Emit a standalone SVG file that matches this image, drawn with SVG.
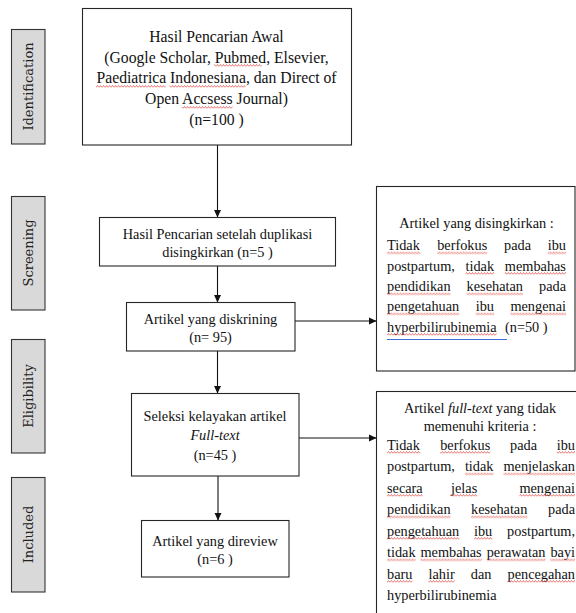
<svg xmlns="http://www.w3.org/2000/svg" width="576" height="613" viewBox="0 0 576 613">
<style>
.box{fill:#fff;stroke:#262626;stroke-width:1.1}
.lab{fill:#d9d9d9;stroke:#333;stroke-width:1.1}
.t{font-family:'Liberation Serif',Tinos,'Times New Roman',Times,'DejaVu Serif',serif;font-size:14.3px;fill:#111}
.t1{font-family:'Liberation Serif',Tinos,'Times New Roman',Times,'DejaVu Serif',serif;font-size:15.7px;fill:#111}
.c{text-anchor:middle}
.lt{font-family:'DejaVu Serif',serif;font-size:13px;fill:#222;text-anchor:middle}
.ln{stroke:#111;stroke-width:1.1;fill:none;marker-end:url(#ah)}
.sq{fill:url(#sq)}
</style>
<defs>
<marker id="ah" markerUnits="userSpaceOnUse" markerWidth="9" markerHeight="9" refX="8" refY="4" orient="auto">
<path d="M0,0.3 L8,4 L0,7.7 z" fill="#111"/>
</marker>
<pattern id="sq" width="3" height="3" patternUnits="userSpaceOnUse">
<path d="M0,2.5 L1.5,0.5 L3,2.5" fill="none" stroke="#e0403a" stroke-width="0.7"/>
</pattern>
</defs>

<g id="label-identification"><rect class="lab" x="11.5" y="29.5" width="33.5" height="114.5"/><text class="lt" transform="translate(32.5,86.5) rotate(-90)">Identification</text></g>
<g id="label-screening"><rect class="lab" x="11.5" y="196.5" width="33.5" height="113.5"/><text class="lt" transform="translate(32.5,253) rotate(-90)">Screening</text></g>
<g id="label-eligibility"><rect class="lab" x="11.5" y="339.5" width="33.5" height="113.5"/><text class="lt" transform="translate(32.5,396) rotate(-90)">Eligibility</text></g>
<g id="label-included"><rect class="lab" x="11.5" y="477.5" width="33.5" height="114.5"/><text class="lt" transform="translate(32.5,534.5) rotate(-90)">Included</text></g>

<g id="connectors">
<path class="ln" d="M217.5,145 V217.5"/>
<path class="ln" d="M217.5,266 V302.5"/>
<path class="ln" d="M217.5,351 V393.5"/>
<path class="ln" d="M218,476 V520.5"/>
<path class="ln" d="M295,321 H376.5"/>
<path class="ln" d="M299,438 H376.5"/>
</g>

<g id="n1">
<rect class="box" x="82.5" y="8.5" width="269" height="136.5"/>
<text class="t1 c" x="216.5" y="42">Hasil Pencarian Awal</text>
<text class="t1 c" x="216.5" y="62.7">(Google Scholar, Pubmed, Elsevier,</text>
<text class="t1 c" x="216.5" y="83.3">Paediatrica Indonesiana, dan Direct of</text>
<text class="t1 c" x="216.5" y="104">Open Accsess Journal)</text>
<text class="t1 c" x="216.5" y="124.7">(n=100 )</text>
<g transform="translate(0,64)"><rect class="sq" x="214.2" width="47.5" height="3"/></g>
<g transform="translate(0,85)"><rect class="sq" x="95.9" width="69.8" height="3"/><rect class="sq" x="169.6" width="75.9" height="3"/></g>
<g transform="translate(0,106)"><rect class="sq" x="181.9" width="50.6" height="3"/></g>
</g>

<g id="n2">
<rect class="box" x="99.5" y="217.5" width="236" height="48.5"/>
<text class="t c" x="217.5" y="238.5">Hasil Pencarian setelah duplikasi</text>
<text class="t c" x="217.5" y="257">disingkirkan (n=5 )</text>
</g>

<g id="n3">
<rect class="box" x="126.5" y="302.5" width="168.5" height="48.5"/>
<text class="t c" x="210.5" y="323.5">Artikel yang diskrining</text>
<text class="t c" x="210.5" y="341.5">(n= 95)</text>
</g>

<g id="n4">
<rect class="box" x="131.5" y="393.5" width="167.5" height="82.5"/>
<text class="t c" x="215" y="421">Seleksi kelayakan artikel</text>
<text class="t c" x="215" y="440" font-style="italic">Full-text</text>
<text class="t c" x="215" y="459.5">(n=45 )</text>
</g>

<g id="n5">
<rect class="box" x="141.5" y="520.5" width="147.5" height="56.5"/>
<text class="t c" x="215" y="545.5">Artikel yang direview</text>
<text class="t c" x="215" y="563.5">(n=6 )</text>
</g>

<g id="side1">
<rect class="box" x="376.5" y="186.5" width="198.5" height="184.5"/>
<text class="t c" x="476.5" y="228">Artikel yang disingkirkan :</text>
<text class="t" y="250"><tspan x="387">Tidak</tspan><tspan x="437.2">berfokus</tspan><tspan x="504">pada</tspan><tspan x="547.7">ibu</tspan></text>
<text class="t" y="270.5"><tspan x="387">postpartum,</tspan><tspan x="465.5">tidak</tspan><tspan x="504.8">membahas</tspan></text>
<text class="t" y="291"><tspan x="387">pendidikan</tspan><tspan x="466.6">kesehatan</tspan><tspan x="539">pada</tspan></text>
<text class="t" y="311"><tspan x="387">pengetahuan</tspan><tspan x="475.7">ibu</tspan><tspan x="510.4">mengenai</tspan></text>
<text class="t" y="331.5"><tspan x="387">hyperbilirubinemia</tspan><tspan x="505">(n=50 )</tspan></text>
<g transform="translate(0,251.5)"><rect class="sq" x="387" width="33.4" height="3"/><rect class="sq" x="437.2" width="50" height="3"/><rect class="sq" x="547.7" width="18.3" height="3"/></g>
<g transform="translate(0,272)"><rect class="sq" x="465.5" width="28.6" height="3"/><rect class="sq" x="504.8" width="61.2" height="3"/></g>
<g transform="translate(0,292.5)"><rect class="sq" x="387" width="63.5" height="3"/><rect class="sq" x="466.6" width="56.4" height="3"/></g>
<g transform="translate(0,312.5)"><rect class="sq" x="387" width="72.3" height="3"/><rect class="sq" x="475.7" width="18.3" height="3"/><rect class="sq" x="510.4" width="55.6" height="3"/></g>
<g transform="translate(0,333)"><rect class="sq" x="387" width="109.6" height="3"/></g>
<path d="M387,339.5 H507" stroke="#3b6fd6" stroke-width="1"/>
</g>

<g id="side2">
<rect class="box" x="376.5" y="391.5" width="210" height="240"/>
<text class="t c" x="480" y="412.5">Artikel <tspan font-style="italic">full-text</tspan> yang tidak</text>
<text class="t c" x="480" y="431">memenuhi kriteria :</text>
<text class="t" y="449.5"><tspan x="387">Tidak</tspan><tspan x="440.2">berfokus</tspan><tspan x="510">pada</tspan><tspan x="556.7">ibu</tspan></text>
<text class="t" y="471"><tspan x="387">postpartum,</tspan><tspan x="464.9">tidak</tspan><tspan x="503.5">menjelaskan</tspan></text>
<text class="t" y="492.5"><tspan x="387">secara</tspan><tspan x="451">jelas</tspan><tspan x="519.4">mengenai</tspan></text>
<text class="t" y="514"><tspan x="387">pendidikan</tspan><tspan x="471">kesehatan</tspan><tspan x="548">pada</tspan></text>
<text class="t" y="535.5"><tspan x="387">pengetahuan</tspan><tspan x="474">ibu</tspan><tspan x="507.1">postpartum,</tspan></text>
<text class="t" y="557"><tspan x="387">tidak</tspan><tspan x="420.5">membahas</tspan><tspan x="486.7">perawatan</tspan><tspan x="550.4">bayi</tspan></text>
<text class="t" y="578.5"><tspan x="387">baru</tspan><tspan x="428.5">lahir</tspan><tspan x="470.8">dan</tspan><tspan x="507.5">pencegahan</tspan></text>
<text class="t" x="387" y="600">hyperbilirubinemia</text>
<g transform="translate(0,451)"><rect class="sq" x="387" width="33.4" height="3"/><rect class="sq" x="440.2" width="50" height="3"/><rect class="sq" x="556.7" width="18.3" height="3"/></g>
<g transform="translate(0,472.5)"><rect class="sq" x="464.9" width="28.6" height="3"/><rect class="sq" x="503.5" width="71.5" height="3"/></g>
<g transform="translate(0,494)"><rect class="sq" x="387" width="35.7" height="3"/><rect class="sq" x="451" width="26.2" height="3"/><rect class="sq" x="519.4" width="55.6" height="3"/></g>
<g transform="translate(0,515.5)"><rect class="sq" x="387" width="63.5" height="3"/><rect class="sq" x="471" width="56.4" height="3"/></g>
<g transform="translate(0,537)"><rect class="sq" x="387" width="72.3" height="3"/><rect class="sq" x="474" width="18.3" height="3"/></g>
<g transform="translate(0,558.5)"><rect class="sq" x="387" width="28.6" height="3"/><rect class="sq" x="420.5" width="61.2" height="3"/><rect class="sq" x="486.7" width="58.8" height="3"/><rect class="sq" x="550.4" width="24.6" height="3"/></g>
<g transform="translate(0,580)"><rect class="sq" x="387" width="25.4" height="3"/><rect class="sq" x="428.5" width="26.2" height="3"/><rect class="sq" x="507.5" width="67.5" height="3"/></g>
</g>
</svg>
